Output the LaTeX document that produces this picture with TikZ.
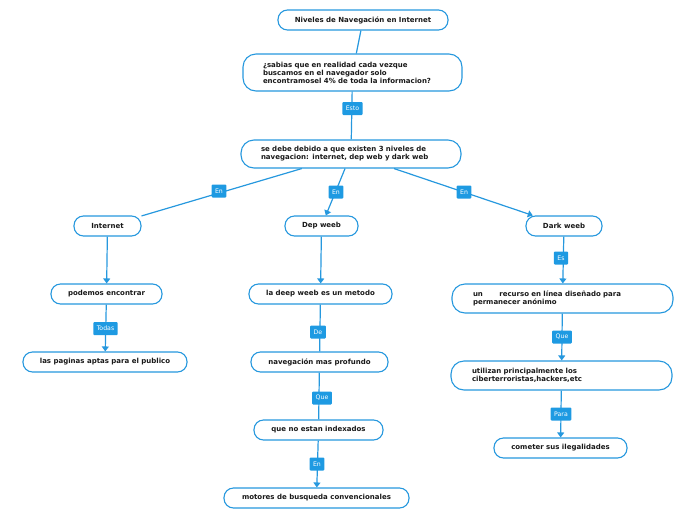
\documentclass[tikz,border=0pt]{standalone}
\usepackage{fontspec}
\setmainfont{DejaVu Sans}
\usetikzlibrary{arrows.meta}
\definecolor{lb}{RGB}{38,152,222}
\definecolor{lf}{RGB}{30,154,226}
\tikzset{
 box/.style={draw=lb, line width=1.1pt, fill=white, rounded corners=9.5pt, minimum height=20pt, inner sep=0pt, font=\fontsize{7}{8}\selectfont\bfseries, text=black!90},
 tall/.style={box, rounded corners=13pt, align=left, inner xsep=20pt},
 lab/.style={fill=lf, text=white, rounded corners=1pt, font=\fontsize{6.2}{6}\selectfont, inner xsep=3.5pt, inner ysep=0pt, minimum height=13pt},
 con/.style={draw=lb, line width=1.2pt},
 arr/.style={con, -{Triangle[width=7pt,length=5pt]}},
}
\begin{document}
\begin{tikzpicture}[x=1pt,y=-1pt]
\useasboundingbox (0,0) rectangle (696,520);
% nodes
\node[box, minimum width=170pt] (t) at (363,20) {Niveles de Navegación en Internet};
\node[tall, minimum height=37pt, text width=179pt] (q) at (352.5,72.5) {¿sabias que en realidad cada vezque\\buscamos en el navegador solo\\encontramosel 4\% de toda la informacion?};
\node[tall, minimum height=28pt, text width=180pt] (sd) at (351,154) {se debe debido a que existen 3 niveles de\\navegacion: internet, dep web y dark web};
\node[box, minimum width=67pt] (inet) at (107.5,226) {Internet};
\node[box, minimum width=73pt] (dep) at (321.5,226) {Dep weeb};
\node[box, minimum width=76pt] (dark) at (564,226) {Dark weeb};
\node[box, minimum width=111pt] (pod) at (106.5,294) {podemos encontrar};
\node[box, minimum width=164pt] (pag) at (105,362) {las paginas aptas para el publico};
\node[box, minimum width=143pt] (ldw) at (320.5,294) {la deep weeb es un metodo};
\node[box, minimum width=137pt] (nav) at (319.5,362) {navegación mas profundo};
\node[box, minimum width=129pt] (que) at (318.5,430) {que no estan indexados};
\node[box, minimum width=185pt] (mot) at (316.5,498) {motores de busqueda convencionales};
\node[tall, minimum height=29pt, text width=179pt, inner xsep=21pt] (un) at (562.5,298.5) {un\hspace{14pt} recurso en línea diseñado para\\permanecer anónimo};
\node[tall, minimum height=29pt, text width=179pt, inner xsep=21pt] (uti) at (561.5,375.5) {utilizan principalmente los\\ciberterroristas,hackers,etc};
\node[box, minimum width=133pt] (com) at (560.5,448) {cometer sus ilegalidades};
% connectors
\draw[con] (t) -- (q);
\draw[con] (q) -- (sd);
\draw[con] (sd) -- (inet);
\draw[arr] (sd) -- (dep);
\draw[arr] (sd) -- (dark);
\draw[arr] (inet) -- (pod);
\draw[arr] (pod) -- (pag);
\draw[arr] (dep) -- (ldw);
\draw[con] (ldw) -- (nav);
\draw[con] (nav) -- (que);
\draw[arr] (que) -- (mot);
\draw[arr] (dark) -- (un);
\draw[arr] (un) -- (uti);
\draw[arr] (uti) -- (com);
% labels
\node[lab] (lesto) at (352.5,108.5) {Esto};
\node[lab] (len1) at (219,191) {En};
\node[lab] (len2) at (336,192) {En};
\node[lab] (len3) at (464,192) {En};
\node[lab] (ltodas) at (105.5,328.5) {Todas};
\node[lab] (lde) at (318,332) {De};
\node[lab] (lque2) at (322,398) {Que};
\node[lab] (len4) at (317,464) {En};
\node[lab] (les) at (561,258) {Es};
\node[lab] (lque3) at (562,337) {Que};
\node[lab] (lpara) at (561,414) {Para};
\end{tikzpicture}
\end{document}
